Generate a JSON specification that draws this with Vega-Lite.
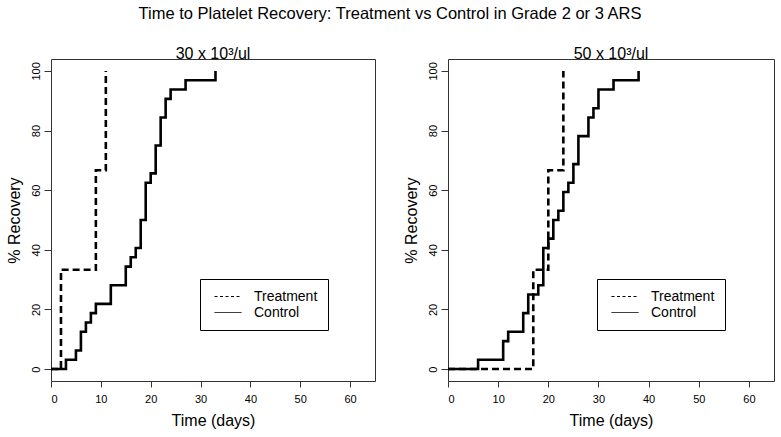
{
  "$schema": "https://vega.github.io/schema/vega-lite/v6.json",
  "padding": {"left": 5, "top": 6, "right": 4, "bottom": 4},
  "background": "white",
  "title": {"text": "Time to Platelet Recovery: Treatment vs Control in Grade 2 or 3 ARS", "fontSize": 16.5, "fontWeight": "normal", "font": "Liberation Sans", "color": "black", "anchor": "middle", "offset": 23},
  "config": {
    "font": "Liberation Sans",
    "view": {"stroke": "#333", "strokeWidth": 1},
    "axis": {"grid": false, "domain": false, "tickColor": "#333", "labelColor": "black", "titleColor": "black", "labelFont": "Liberation Sans", "titleFont": "Liberation Sans", "labelFontSize": 11, "titleFontSize": 16, "titleFontWeight": "normal"},
    "legend": {"labelFont": "Liberation Sans", "labelFontSize": 14, "labelColor": "black"}
  },
  "data": {"values": [
    {"panel": "30", "group": "Control", "day": 0, "pct": 0},
    {"panel": "30", "group": "Control", "day": 3, "pct": 3.125},
    {"panel": "30", "group": "Control", "day": 5, "pct": 6.25},
    {"panel": "30", "group": "Control", "day": 6, "pct": 12.5},
    {"panel": "30", "group": "Control", "day": 7, "pct": 15.625},
    {"panel": "30", "group": "Control", "day": 8, "pct": 18.75},
    {"panel": "30", "group": "Control", "day": 9, "pct": 21.875},
    {"panel": "30", "group": "Control", "day": 12, "pct": 28.125},
    {"panel": "30", "group": "Control", "day": 15, "pct": 34.375},
    {"panel": "30", "group": "Control", "day": 16, "pct": 37.5},
    {"panel": "30", "group": "Control", "day": 17, "pct": 40.625},
    {"panel": "30", "group": "Control", "day": 18, "pct": 50},
    {"panel": "30", "group": "Control", "day": 19, "pct": 62.5},
    {"panel": "30", "group": "Control", "day": 20, "pct": 65.625},
    {"panel": "30", "group": "Control", "day": 21, "pct": 75},
    {"panel": "30", "group": "Control", "day": 22, "pct": 84.375},
    {"panel": "30", "group": "Control", "day": 23, "pct": 90.625},
    {"panel": "30", "group": "Control", "day": 24, "pct": 93.75},
    {"panel": "30", "group": "Control", "day": 27, "pct": 96.875},
    {"panel": "30", "group": "Control", "day": 33, "pct": 100},
    {"panel": "30", "group": "Treatment", "day": 0, "pct": 0},
    {"panel": "30", "group": "Treatment", "day": 2, "pct": 33.33},
    {"panel": "30", "group": "Treatment", "day": 9, "pct": 66.67},
    {"panel": "30", "group": "Treatment", "day": 11, "pct": 100},
    {"panel": "50", "group": "Control", "day": 0, "pct": 0},
    {"panel": "50", "group": "Control", "day": 6, "pct": 3.125},
    {"panel": "50", "group": "Control", "day": 11, "pct": 9.375},
    {"panel": "50", "group": "Control", "day": 12, "pct": 12.5},
    {"panel": "50", "group": "Control", "day": 15, "pct": 18.75},
    {"panel": "50", "group": "Control", "day": 16, "pct": 25},
    {"panel": "50", "group": "Control", "day": 18, "pct": 28.125},
    {"panel": "50", "group": "Control", "day": 19, "pct": 40.625},
    {"panel": "50", "group": "Control", "day": 20, "pct": 43.75},
    {"panel": "50", "group": "Control", "day": 21, "pct": 50},
    {"panel": "50", "group": "Control", "day": 22, "pct": 53.125},
    {"panel": "50", "group": "Control", "day": 23, "pct": 59.375},
    {"panel": "50", "group": "Control", "day": 24, "pct": 62.5},
    {"panel": "50", "group": "Control", "day": 25, "pct": 68.75},
    {"panel": "50", "group": "Control", "day": 26, "pct": 78.125},
    {"panel": "50", "group": "Control", "day": 28, "pct": 84.375},
    {"panel": "50", "group": "Control", "day": 29, "pct": 87.5},
    {"panel": "50", "group": "Control", "day": 30, "pct": 93.75},
    {"panel": "50", "group": "Control", "day": 33, "pct": 96.875},
    {"panel": "50", "group": "Control", "day": 38, "pct": 100},
    {"panel": "50", "group": "Treatment", "day": 0, "pct": 0},
    {"panel": "50", "group": "Treatment", "day": 17, "pct": 33.33},
    {"panel": "50", "group": "Treatment", "day": 20, "pct": 66.67},
    {"panel": "50", "group": "Treatment", "day": 23, "pct": 100}
  ]},
  "spacing": 73,
  "bounds": "flush",
  "resolve": {"scale": {"strokeDash": "independent"}, "legend": {"strokeDash": "independent"}},
  "hconcat": [
    {
      "width": 324, "height": 322,
      "title": {"text": "30 x 10³/ul", "fontSize": 16, "fontWeight": "normal", "color": "black", "offset": -3},
      "transform": [{"filter": "datum.panel === '30'"}],
      "resolve": {"scale": {"strokeDash": "independent"}, "legend": {"strokeDash": "independent"}},
      "encoding": {
        "x": {"field": "day", "type": "quantitative", "scale": {"domain": [0, 65], "nice": false, "zero": false}, "axis": {"values": [0, 10, 20, 30, 40, 50, 60], "tickSize": 6, "labelPadding": 6, "title": "Time (days)", "titlePadding": 8}},
        "y": {"field": "pct", "type": "quantitative", "scale": {"domain": [-4, 104], "nice": false, "zero": false}, "axis": {"values": [0, 20, 40, 60, 80, 100], "tickSize": 7, "labelAngle": -90, "labelAlign": "center", "labelBaseline": "bottom", "labelPadding": 3, "title": "% Recovery", "titlePadding": 8}}
      },
      "layer": [
        {
          "mark": {"type": "line", "interpolate": "step-after", "color": "black", "strokeWidth": 2.6, "clip": true},
          "encoding": {"strokeDash": {"field": "group", "type": "nominal", "scale": {"domain": ["Treatment", "Control"], "range": [[7, 4], [1, 0]]}, "legend": null}}
        },
        {
          "mark": {"type": "line", "interpolate": "step-after", "color": "black", "strokeWidth": 0, "clip": true},
          "encoding": {"strokeDash": {"field": "group", "type": "nominal", "scale": {"domain": ["Treatment", "Control"], "range": [[3, 2.5], [1, 0]]}, "legend": {"title": null, "orient": "none", "legendX": 149, "legendY": 220, "strokeColor": "black", "padding": 10, "symbolOffset": 4, "symbolType": "stroke", "symbolSize": 729, "symbolStrokeWidth": 1, "symbolStrokeColor": "black", "labelOffset": 12, "clipHeight": 15, "rowPadding": 1}}}
        }
      ]
    },
    {
      "width": 326, "height": 322,
      "title": {"text": "50 x 10³/ul", "fontSize": 16, "fontWeight": "normal", "color": "black", "offset": -3},
      "transform": [{"filter": "datum.panel === '50'"}],
      "resolve": {"scale": {"strokeDash": "independent"}, "legend": {"strokeDash": "independent"}},
      "encoding": {
        "x": {"field": "day", "type": "quantitative", "scale": {"domain": [0, 65], "nice": false, "zero": false}, "axis": {"values": [0, 10, 20, 30, 40, 50, 60], "tickSize": 6, "labelPadding": 6, "title": "Time (days)", "titlePadding": 8}},
        "y": {"field": "pct", "type": "quantitative", "scale": {"domain": [-4, 104], "nice": false, "zero": false}, "axis": {"values": [0, 20, 40, 60, 80, 100], "tickSize": 7, "labelAngle": -90, "labelAlign": "center", "labelBaseline": "bottom", "labelPadding": 3, "title": "% Recovery", "titlePadding": 8}}
      },
      "layer": [
        {
          "mark": {"type": "line", "interpolate": "step-after", "color": "black", "strokeWidth": 2.6, "clip": true},
          "encoding": {"strokeDash": {"field": "group", "type": "nominal", "scale": {"domain": ["Treatment", "Control"], "range": [[7, 4], [1, 0]]}, "legend": null}}
        },
        {
          "mark": {"type": "line", "interpolate": "step-after", "color": "black", "strokeWidth": 0, "clip": true},
          "encoding": {"strokeDash": {"field": "group", "type": "nominal", "scale": {"domain": ["Treatment", "Control"], "range": [[3, 2.5], [1, 0]]}, "legend": {"title": null, "orient": "none", "legendX": 149, "legendY": 220, "strokeColor": "black", "padding": 10, "symbolOffset": 4, "symbolType": "stroke", "symbolSize": 729, "symbolStrokeWidth": 1, "symbolStrokeColor": "black", "labelOffset": 12, "clipHeight": 15, "rowPadding": 1}}}
        }
      ]
    }
  ]
}
